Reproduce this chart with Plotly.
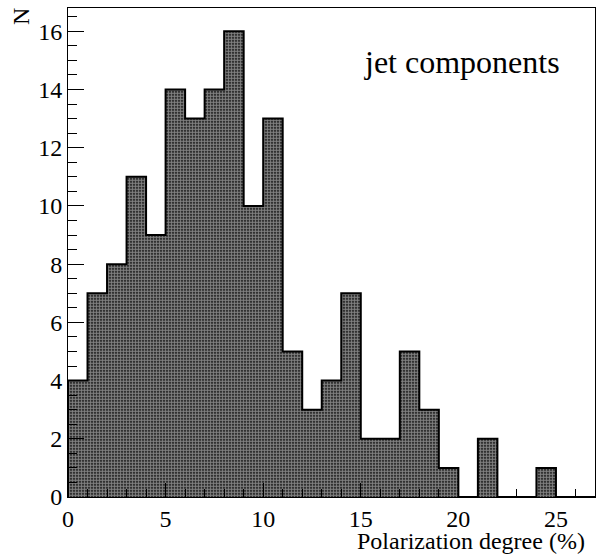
import plotly.graph_objects as go

# Histogram data: bins of width 1 from 0 to 27 (%)
bin_edges = list(range(0, 28))
counts = [4, 7, 8, 11, 9, 14, 13, 14, 16, 10, 13, 5, 3, 4, 7, 2, 2, 5, 3, 1, 0, 2, 0, 0, 1, 0, 0]
x_ticks = [0, 5, 10, 15, 20, 25]
y_ticks = [0, 2, 4, 6, 8, 10, 12, 14, 16]

centers = [(bin_edges[i] + bin_edges[i + 1]) / 2 for i in range(len(counts))]
widths = [bin_edges[i + 1] - bin_edges[i] for i in range(len(counts))]

FONT = "Liberation Serif"

fig = go.Figure()
fig.add_trace(go.Bar(
    x=centers, y=counts, width=widths,
    marker=dict(color="black", line=dict(width=0),
                pattern=dict(shape=".", size=3, solidity=0.68,
                             fgcolor="white", bgcolor="black")),
    showlegend=False, hoverinfo="skip",
))
# step outline
xs = [bin_edges[0]] + bin_edges
ys = [0] + counts + [0]
fig.add_trace(go.Scatter(
    x=xs, y=ys, mode="lines", line=dict(color="black", width=2, shape="hv"),
    showlegend=False, hoverinfo="skip", cliponaxis=False,
))

fig.update_layout(
    width=598, height=555,
    margin=dict(l=68, r=3, t=8, b=58),
    paper_bgcolor="white", plot_bgcolor="white",
    font=dict(family=FONT, color="black", size=22),
    bargap=0,
    xaxis=dict(range=[0, 27], tickvals=x_ticks, ticks="inside", ticklen=14, tickwidth=1,
               tickcolor="black", showline=True, linecolor="black", linewidth=1, mirror=True,
               showgrid=False, zeroline=False, tickfont=dict(size=24, family=FONT, color="black"),
               minor=dict(dtick=1, ticks="inside", ticklen=8, tickcolor="black", showgrid=False)),
    yaxis=dict(range=[0, 16.8], tickvals=y_ticks, ticks="inside", ticklen=16, tickwidth=1,
               tickcolor="black", showline=True, linecolor="black", linewidth=1, mirror=True,
               showgrid=False, zeroline=False, tickfont=dict(size=24, family=FONT, color="black"),
               minor=dict(dtick=0.5, ticks="inside", ticklen=9, tickcolor="black", showgrid=False)),
    annotations=[
        dict(text="Polarization degree (%)", x=1, y=0, xref="paper", yref="paper",
             xanchor="right", yanchor="middle", yshift=-44, xshift=-8, showarrow=False,
             font=dict(size=24, family=FONT, color="black")),
        dict(text="N", x=0, y=1, xref="paper", yref="paper", xanchor="center", yanchor="middle",
             xshift=-47, yshift=-9, textangle=-90, showarrow=False,
             font=dict(size=24, family=FONT, color="black")),
        dict(text="jet components", x=0.748, y=0.89, xref="paper", yref="paper",
             xanchor="center", yanchor="middle", showarrow=False,
             font=dict(size=32, family=FONT, color="black")),
    ],
)

fig.write_html("out.html")
